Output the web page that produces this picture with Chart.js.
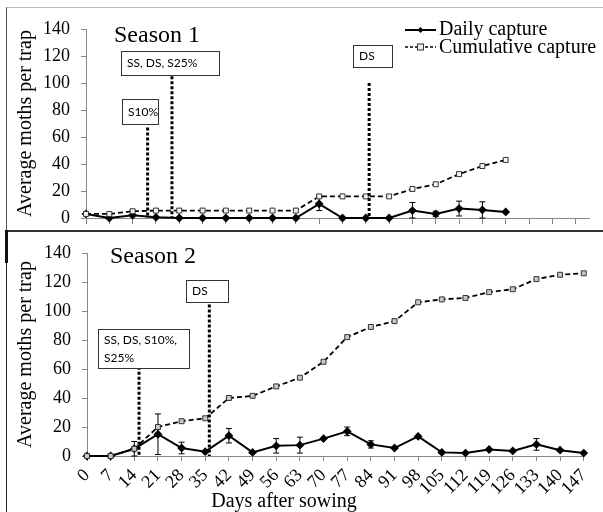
<!DOCTYPE html>
<html>
<head>
<meta charset="utf-8">
<script src="https://cdn.jsdelivr.net/npm/chart.js@4.4.1/dist/chart.umd.min.js"></script>
<style>
  body { margin: 0; background: #fff; }
  #wrap { position: relative; width: 603px; height: 512px; overflow: hidden; }
  canvas { position: absolute; left: 0; }
  #c1 { top: 0; }
  #c2 { top: 230px; }
  .frame1 { position: absolute; left: 6px; top: 7px; width: 597px; height: 223px; border-top: 1px solid #bbb; border-left: 1px solid #555; }
  .frame2 { position: absolute; left: 6px; top: 230px; width: 597px; height: 282px; border-top: 2px solid #333; border-left: 1px solid #222; }
  .thick { position: absolute; left: 5px; top: 230px; width: 3px; height: 33px; background: #111; }
</style>
</head>
<body>
<div id="wrap">
  <div class="frame1"></div>
  <div class="frame2"></div>
  <div class="thick"></div>
  <canvas id="c1" width="603" height="230"></canvas>
  <canvas id="c2" width="603" height="282"></canvas>
</div>
<script>
// dias despues de la siembra (eje x)
const days = [0, 7, 14, 21, 28, 35, 42, 49, 56, 63, 70, 77, 84, 91, 98, 105, 112, 119, 126, 133, 140, 147];

// Temporada 1
const s1Daily = [3, 0, 2, 0.5, 0, 0, 0, 0, 0, 0, 10.5, 0, 0, 0, 5.5, 3, 7, 6, 4.5];
const s1DailyErr = [0, 0, 0, 0, 0, 0, 0, 0, 0, 0, 5, 0, 0, 0, 6, 2, 5.5, 6, 0];
const s1Cumul = [3, 3, 5, 5.5, 5.5, 5.5, 5.5, 5.5, 5.5, 5.5, 16, 16, 16, 16, 21.5, 25, 32.5, 38.5, 43];
const s1MarkDays = [18.5, 25.8, 85];
const s1MarkTops = [67, 105, 100];
const s1MarkLabels = [['S10%'], ['SS, DS, S25%'], ['DS']];

// Temporada 2
const s2Daily = [0, 0, 5, 15, 5.5, 3, 14, 2.5, 7, 7.5, 12, 17, 8, 5.5, 13.5, 2.5, 2, 4.5, 3.5, 8, 4, 2];
const s2DailyErr = [0, 0, 5, 14, 4, 0, 5, 0, 5, 5.5, 0, 3, 2.5, 0, 0, 0, 0, 0, 0, 4, 0, 0];
const s2Cumul = [0, 0, 5, 20, 24, 26, 40, 41.5, 48, 54, 65, 82, 89, 93, 106, 108, 109, 113, 115, 122, 125, 126];
const s2MarkDays = [15.4, 36.2];
const s2MarkTops = [61.6, 108];
const s2MarkLabels = [['SS, DS, S10%,', 'S25%'], ['DS']];

// cajas de las etiquetas (x, y, ancho, alto en pixeles del canvas)
const s1Boxes = [[122, 99, 36, 25], [121, 51, 98, 24], [353, 45, 39, 22]];
const s2Boxes = [[98, 99, 91, 39], [186, 50, 42, 22]];

const serif = "'Liberation Serif', 'Times New Roman', serif";
const sans = "Lato, 'Open Sans', sans-serif";

function pts(vals) {
  return vals.map((v, i) => ({ x: days[i], y: v }));
}

function datasets(daily, cumul, squareFill) {
  return [
    {
      label: 'Cumulative capture',
      data: pts(cumul),
      borderColor: '#000',
      borderWidth: 1.8,
      borderDash: [5, 3],
      pointStyle: 'rect',
      pointRadius: 3.5,
      pointBackgroundColor: squareFill,
      pointBorderColor: '#333',
      pointBorderWidth: 1,
      clip: false
    },
    {
      label: 'Daily capture',
      data: pts(daily),
      borderColor: '#000',
      backgroundColor: '#000',
      borderWidth: 2,
      pointStyle: 'rectRot',
      pointRadius: 3,
      clip: false
    }
  ];
}

function yScale(w) {
  return {
    min: 0, max: 140,
    ticks: { stepSize: 20, color: '#000', font: { family: serif, size: 18 }, padding: 11 },
    grid: { drawOnChartArea: false, tickLength: 5, color: '#888' },
    border: { color: '#888' },
    title: { display: true, text: 'Average moths per trap', color: '#000', font: { family: serif, size: 20 }, padding: { top: 14, bottom: 0 } },
    afterFit: s => { s.width = w; s.paddingTop = 0; s.paddingBottom = 0; }
  };
}

// barras de error, lineas punteadas, cajas y titulo
const annotate = {
  id: 'annotate',
  beforeDatasetsDraw(chart, args, o) {
    const ctx = chart.ctx, x = chart.scales.x, y = chart.scales.y;
    ctx.save();
    ctx.strokeStyle = '#000';
    ctx.lineWidth = 1;
    o.err.forEach((e, i) => {
      if (!e) return;
      const px = x.getPixelForValue(days[i]);
      const y1 = y.getPixelForValue(o.daily[i] + e);
      const y2 = y.getPixelForValue(Math.max(o.daily[i] - e, 0));
      ctx.beginPath();
      ctx.moveTo(px, y1); ctx.lineTo(px, y2);
      ctx.moveTo(px - 3, y1); ctx.lineTo(px + 3, y1);
      ctx.moveTo(px - 3, y2); ctx.lineTo(px + 3, y2);
      ctx.stroke();
    });
    ctx.restore();
  },
  afterDatasetsDraw(chart, args, o) {
    const ctx = chart.ctx, x = chart.scales.x, y = chart.scales.y;
    ctx.save();
    o.markDays.forEach((d, i) => {
      const px = x.getPixelForValue(d);
      ctx.strokeStyle = '#000';
      ctx.lineWidth = 3;
      ctx.setLineDash([3, 2]);
      ctx.beginPath();
      ctx.moveTo(px, y.getPixelForValue(o.markTops[i]));
      ctx.lineTo(px, y.getPixelForValue(0));
      ctx.stroke();
      ctx.setLineDash([]);
      const b = o.boxes[i];
      ctx.fillStyle = '#fff';
      ctx.fillRect(b[0], b[1], b[2], b[3]);
      ctx.strokeStyle = '#333';
      ctx.lineWidth = 1;
      ctx.strokeRect(b[0] + 0.5, b[1] + 0.5, b[2], b[3]);
      ctx.fillStyle = '#000';
      ctx.font = '12px ' + sans;
      ctx.textBaseline = 'middle';
      ctx.textAlign = 'left';
      const lines = o.labels[i];
      const y0 = b[1] + (b[3] - lines.length * 18) / 2 + 9.5;
      lines.forEach((t, k) => ctx.fillText(t, b[0] + 6, y0 + k * 18));
    });
    ctx.fillStyle = '#000';
    ctx.textBaseline = 'alphabetic';
    ctx.font = '24px ' + serif;
    ctx.fillText(o.title[0], o.title[1], o.title[2]);
    ctx.restore();
  }
};

// leyenda dibujada a mano en la esquina superior derecha
const legendBox = {
  id: 'legendBox',
  afterDraw(chart) {
    const ctx = chart.ctx;
    ctx.save();
    ctx.strokeStyle = '#000';
    ctx.lineWidth = 2;
    ctx.beginPath(); ctx.moveTo(405, 30); ctx.lineTo(436, 30); ctx.stroke();
    ctx.fillStyle = '#000';
    ctx.beginPath(); ctx.moveTo(420.5, 27); ctx.lineTo(423.5, 30); ctx.lineTo(420.5, 33); ctx.lineTo(417.5, 30); ctx.closePath(); ctx.fill();
    ctx.lineWidth = 1.5;
    ctx.setLineDash([3, 2]);
    ctx.beginPath(); ctx.moveTo(405, 47); ctx.lineTo(436, 47); ctx.stroke();
    ctx.setLineDash([]);
    ctx.fillStyle = '#eee';
    ctx.fillRect(417.5, 44, 6, 6);
    ctx.strokeStyle = '#333'; ctx.lineWidth = 1;
    ctx.strokeRect(417.5, 44, 6, 6);
    ctx.fillStyle = '#000';
    ctx.font = '20px ' + serif;
    ctx.textBaseline = 'alphabetic';
    ctx.fillText('Daily capture', 439, 35);
    ctx.fillText('Cumulative capture', 439, 53);
    ctx.restore();
  }
};

const xTitle = {
  id: 'xTitle',
  afterDraw(chart) {
    const ctx = chart.ctx;
    ctx.save();
    ctx.fillStyle = '#000';
    ctx.font = '20px ' + serif;
    ctx.textAlign = 'center';
    ctx.textBaseline = 'alphabetic';
    ctx.fillText('Days after sowing', 284, 277);
    ctx.restore();
  }
};

new Chart(document.getElementById('c1').getContext('2d'), {
  type: 'line',
  data: { datasets: datasets(s1Daily, s1Cumul, '#f4f4f4') },
  options: {
    responsive: false,
    animation: false,
    layout: { padding: { top: 29, right: 14, left: 0, bottom: 0 } },
    scales: {
      x: {
        type: 'linear', min: 0, max: 151,
        ticks: { stepSize: 7, includeBounds: false, display: false },
        grid: { drawOnChartArea: false, tickLength: 6, color: '#888' },
        border: { color: '#888' },
        afterFit: s => { s.height = 12; }
      },
      y: yScale(86)
    },
    plugins: {
      legend: { display: false },
      tooltip: { enabled: false },
      annotate: { daily: s1Daily, err: s1DailyErr, markDays: s1MarkDays, markTops: s1MarkTops, labels: s1MarkLabels, boxes: s1Boxes, title: ['Season 1', 114, 42] }
    }
  },
  plugins: [annotate, legendBox]
});

new Chart(document.getElementById('c2').getContext('2d'), {
  type: 'line',
  data: { datasets: datasets(s2Daily, s2Cumul, '#c8c8c8') },
  options: {
    responsive: false,
    animation: false,
    layout: { padding: { top: 23, right: 14, left: 0, bottom: 0 } },
    scales: {
      x: {
        type: 'linear', min: 0, max: 147,
        ticks: { stepSize: 7, autoSkip: false, color: '#000', font: { family: serif, size: 18 }, maxRotation: 45, minRotation: 45, padding: 4 },
        grid: { drawOnChartArea: false, tickLength: 5, color: '#888' },
        border: { color: '#888' },
        afterFit: s => { s.height = 56; }
      },
      y: yScale(87)
    },
    plugins: {
      legend: { display: false },
      tooltip: { enabled: false },
      annotate: { daily: s2Daily, err: s2DailyErr, markDays: s2MarkDays, markTops: s2MarkTops, labels: s2MarkLabels, boxes: s2Boxes, title: ['Season 2', 110, 33] }
    }
  },
  plugins: [annotate, xTitle]
});
</script>
</body>
</html>
